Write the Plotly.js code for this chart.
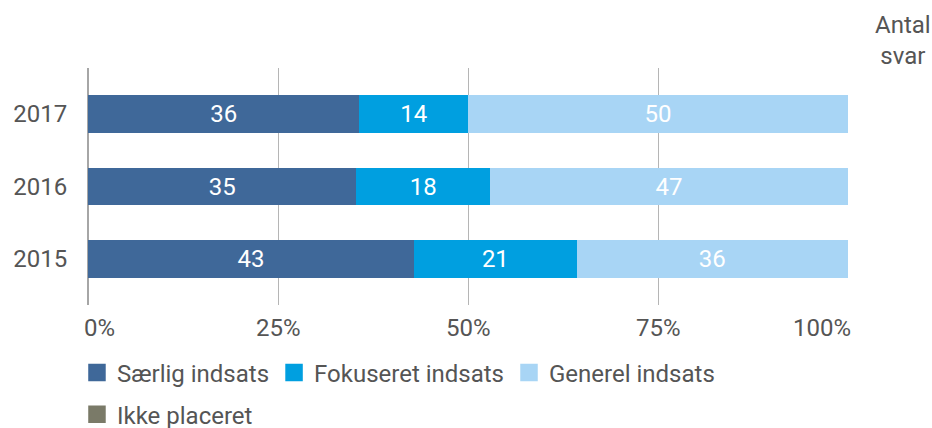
<!DOCTYPE html>
<html>
<head>
<meta charset="utf-8">
<script src="https://cdn.plot.ly/plotly-3.0.1.min.js"></script>
<style>html,body{margin:0;padding:0;background:#fff;}#chart{width:932px;height:428px;}</style>
</head>
<body>
<div id="chart"></div>
<script>
var years = ['2015', '2016', '2017'];
var saerlig = [42.9, 35.3, 35.7];
var fokuseret = [21.4, 17.6, 14.3];
var generel = [35.7, 47.1, 50.0];
var ikkePlaceret = [];
var saerligLabels = ['43', '35', '36'];
var fokuseretLabels = ['21', '18', '14'];
var generelLabels = ['36', '47', '50'];
var antalSvar = ['14', '17', '14'];
var xTicks = [0, 25, 50, 75, 100];
var xTickLabels = ['0%', '25%', '50%', '75%', '100%'];

var FONT = 'Roboto, "Noto Sans", sans-serif';
var GREY = '#555555';
var FS = 24;

function barTrace(name, vals, labels, color) {
  return {
    type: 'bar', orientation: 'h', name: name,
    y: years, x: vals, text: labels,
    textposition: 'inside', insidetextanchor: 'middle',
    textfont: {color: '#ffffff', size: FS, family: FONT},
    marker: {color: color, line: {width: 0}},
    hoverinfo: 'skip', showlegend: false
  };
}
function legendTrace(name, color, legendId) {
  return {
    type: 'scatter', mode: 'markers', name: name,
    x: [null], y: [null],
    marker: {symbol: 'square', size: 16, color: color, line: {color: color, width: 1.5}},
    legend: legendId, hoverinfo: 'skip'
  };
}

var data = [
  barTrace('Særlig indsats', saerlig, saerligLabels, '#3f6899'),
  barTrace('Fokuseret indsats', fokuseret, fokuseretLabels, '#009fe0'),
  barTrace('Generel indsats', generel, generelLabels, '#a8d5f5'),
  barTrace('Ikke placeret', ikkePlaceret, [], '#7a7a68'),
  legendTrace('Særlig indsats', '#3f6899', 'legend'),
  legendTrace('Fokuseret indsats', '#009fe0', 'legend'),
  legendTrace('Generel indsats', '#a8d5f5', 'legend'),
  legendTrace('Ikke placeret', '#7a7a68', 'legend2')
];

var annotations = [{
  xref: 'paper', yref: 'paper', x: 1.073, y: 1.0, xanchor: 'center', yanchor: 'bottom',
  text: 'Antal<br>svar', showarrow: false, align: 'center',
  font: {family: FONT, size: FS, color: GREY}, yshift: -4
}];
for (var i = 0; i < years.length; i++) {
  annotations.push({
    xref: 'paper', yref: 'y', x: 1.073, y: years[i], xanchor: 'center', yanchor: 'middle',
    text: antalSvar[i], showarrow: false,
    font: {family: FONT, size: FS, color: GREY}
  });
}
for (var j = 0; j < xTicks.length; j++) {
  var anchor = 'center', shift = 0;
  if (j === 0) { anchor = 'left'; shift = -6; }
  if (j === xTicks.length - 1) { anchor = 'right'; shift = 5; }
  annotations.push({
    xref: 'x', yref: 'paper', x: xTicks[j], y: 0, xanchor: anchor, yanchor: 'middle',
    yshift: -23, xshift: shift,
    text: xTickLabels[j], showarrow: false,
    font: {family: FONT, size: FS, color: GREY}
  });
}

var layout = {
  width: 932, height: 428,
  margin: {l: 88, r: 84, t: 68, b: 123, autoexpand: false},
  paper_bgcolor: '#ffffff', plot_bgcolor: '#ffffff',
  barmode: 'stack', bargap: 0.48,
  font: {family: FONT, size: FS, color: GREY},
  xaxis: {
    range: [0, 100], tickvals: xTicks,
    showgrid: true, gridcolor: '#b5b5b5', gridwidth: 1,
    zeroline: true, zerolinecolor: '#a6a6a6', zerolinewidth: 2,
    showline: false, ticks: '', showticklabels: false, fixedrange: true
  },
  yaxis: {
    type: 'category', categoryorder: 'array', categoryarray: years,
    range: [-0.635, 2.635], showgrid: false, zeroline: false, showline: false,
    ticks: 'outside', ticklen: 15, tickcolor: 'rgba(0,0,0,0)',
    tickfont: {family: FONT, size: FS, color: GREY}
  },
  showlegend: true,
  legend: {
    orientation: 'h', traceorder: 'normal', x: -0.0145, xanchor: 'left', y: -0.192, yanchor: 'top',
    font: {family: FONT, size: FS, color: GREY}, itemclick: false, itemdoubleclick: false,
    bgcolor: 'rgba(0,0,0,0)', itemwidth: 30
  },
  legend2: {
    orientation: 'h', x: -0.0145, xanchor: 'left', y: -0.368, yanchor: 'top',
    font: {family: FONT, size: FS, color: GREY}, itemclick: false, itemdoubleclick: false,
    bgcolor: 'rgba(0,0,0,0)', itemwidth: 30
  },
  annotations: annotations
};

Plotly.newPlot('chart', data, layout, {displayModeBar: false, staticPlot: true});
</script>
</body>
</html>
